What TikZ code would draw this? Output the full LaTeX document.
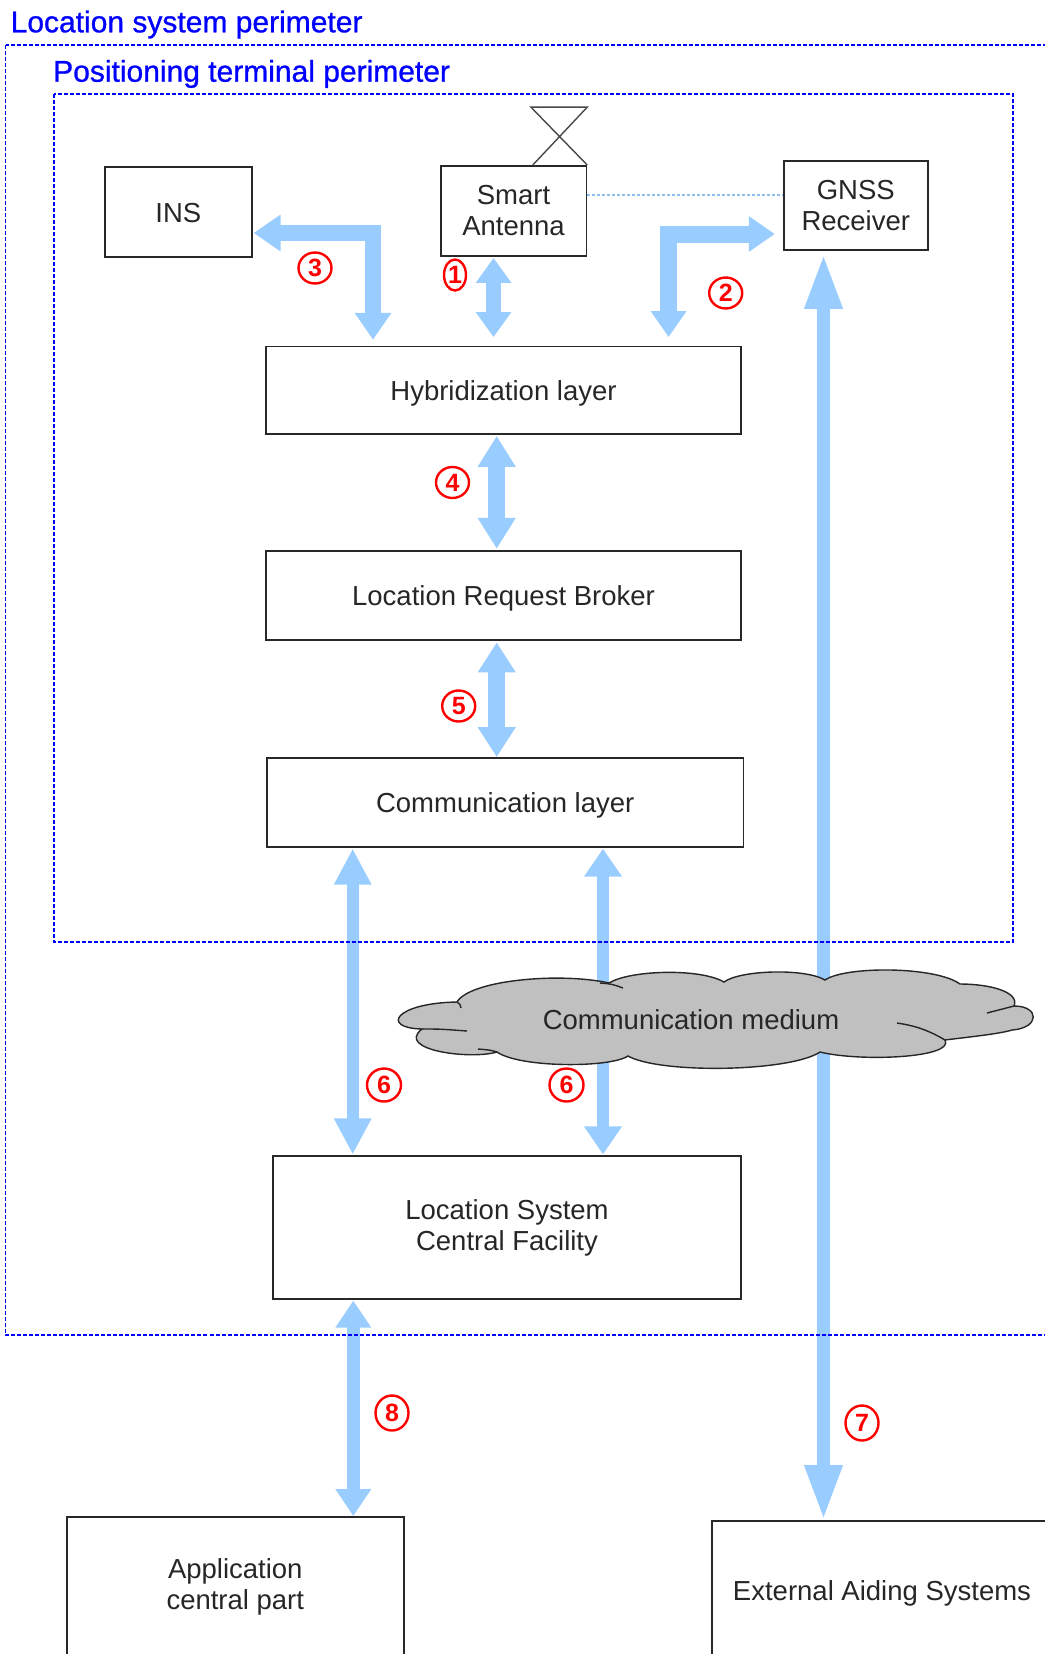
\documentclass[tikz,border=0pt]{standalone}
\usepackage{fontspec}
\setmainfont{Liberation Sans}
\newfontfamily\perimfont[FakeBold=0.9]{Liberation Sans}
\usetikzlibrary{arrows.meta,calc,shapes.geometric}

\definecolor{arrowblue}{RGB}{153,204,255}
\definecolor{linkblue}{RGB}{140,190,240}
\definecolor{framegray}{RGB}{40,40,40}
\definecolor{cloudgray}{RGB}{192,192,192}
\definecolor{perimblue}{RGB}{0,0,255}
\definecolor{tagred}{RGB}{255,0,0}

\begin{document}
\begin{tikzpicture}[x=1pt,y=1pt,
  box/.style={draw=framegray, line width=1.8pt, inner sep=0pt, align=center,
    text=black!85, font=\fontsize{27.5}{31}\selectfont},
  oneline/.style={text height=26pt, text depth=6pt},
  flow/.style n args={3}{draw=arrowblue, line width=#1, line join=miter,
    arrows={Triangle[length=#2,width=#3]-Triangle[length=#2,width=#3]}},
  tag/.style={ellipse, draw=tagred, line width=2.4pt, text=tagred, inner sep=0pt,
    minimum width=33pt, minimum height=31pt,
    font=\bfseries\fontsize{25}{25}\selectfont},
  perim/.style={text=perimblue, font=\perimfont\fontsize{30}{30}\selectfont,
    inner sep=0pt, anchor=base west},
  frame/.style={draw=perimblue, line width=1.5pt, dash pattern=on 4pt off 2pt},
]
\useasboundingbox (0,0) rectangle (1044,-1654);

% --- components ---
\node[box, oneline, minimum width=146.7pt, minimum height=89.4pt] (ins) at (178.35,-212) {INS};
\node[box, minimum width=145.7pt, minimum height=90pt]   (smart) at (513.55,-211)   {Smart\\Antenna};
\node[box, minimum width=144.4pt, minimum height=89pt]   (gnss)  at (855.8,-205.5)  {GNSS\\Receiver};
\node[box, oneline, minimum width=475.6pt, minimum height=87.5pt] (hyb) at (503.5,-390.25) {Hybridization layer};
\node[box, oneline, minimum width=475.6pt, minimum height=89.3pt] (lrb) at (503.5,-595.35) {Location Request Broker};
\node[box, oneline, minimum width=476.4pt, minimum height=88.7pt] (comm) at (505.2,-802.35) {Communication layer};
\node[box, minimum width=468pt,   minimum height=142.3pt] (lscf) at (507,-1227.5)  {Location System\\Central Facility};
\node[box, minimum width=337.4pt, minimum height=140pt]  (app)   at (235.3,-1587)   {Application\\central part};
\node[box, oneline, minimum width=340pt, minimum height=138pt] (ext) at (882,-1590) {External Aiding Systems};

% antenna symbol on top of the smart antenna
\draw[framegray!85, line width=1.4pt]
  ($(smart.north east)+(-54.6,0)$) -- ($(smart.north east)+(0,58)$)
  -- ($(smart.north east)+(-56.4,58)$) -- (smart.north east);

% RF link between antenna and receiver
\draw[linkblue, line width=1.2pt, dash pattern=on 3pt off 2pt]
  ($(smart.east)+(0,16)$) -- ($(gnss.west)+(0,10.5)$);

% --- data flows ---
\draw[flow={15pt}{25pt}{34pt}] ($(smart.south)+(-20,-1)$) -- ($(smart.south |- hyb.north)+(-20,8.5)$);
\draw[flow={17pt}{26pt}{34pt}] ($(hyb.north)+(165.1,8.5)$) |- ($(gnss.west)+(-7.9,-28.5)$);
\draw[flow={16pt}{27pt}{35pt}] ($(hyb.north)+(-130.5,5.8)$) |- ($(ins.east)+(1,-21)$);
\draw[flow={17pt}{31pt}{36pt}] ($(hyb.south)+(-6.8,-1)$) -- ($(lrb.north)+(-6.8,1)$);
\draw[flow={17pt}{30pt}{36pt}] ($(lrb.south)+(-6.8,-1.5)$) -- ($(comm.north)+(-8.5,0)$);
\draw[flow={12pt}{36pt}{35pt}] ($(comm.south)+(-152.5,-1)$) -- ($(lscf.north)+(-154.3,1)$);
\draw[flow={12pt}{28pt}{36pt}] ($(comm.south)+(97.8,-1)$) -- ($(lscf.north)+(96,1)$);
\draw[flow={12.5pt}{55pt}{35pt}] ($(gnss.south)+(-32.3,-3)$) -- ($(ext.north)+(-58.5,0)$);
\draw[flow={13pt}{27pt}{34pt}] ($(lscf.south)+(-153.7,-1)$) -- ($(app.north)+(118,0)$);

% --- communication medium cloud ---
\draw[fill=cloudgray, draw=black!85, line width=1.4pt]
  (422,-1029) .. controls (380,-1028) and (395,-1003) .. (457,-1002)
  .. controls (470,-980) and (560,-972) .. (609,-983)
  .. controls (630,-970) and (700,-968) .. (724,-982)
  .. controls (740,-970) and (805,-968) .. (825,-980)
  .. controls (845,-966) and (935,-966) .. (960,-984)
  .. controls (990,-984) and (1020,-992) .. (1014,-1006)
  .. controls (1040,-1006) and (1040,-1028) .. (1012,-1030)
  .. controls (1000,-1034) and (960,-1038) .. (945,-1040)
  .. controls (955,-1058) and (860,-1062) .. (820,-1052)
  .. controls (790,-1072) and (660,-1074) .. (628,-1056)
  .. controls (610,-1068) and (520,-1068) .. (497,-1052)
  .. controls (470,-1060) and (395,-1050) .. (422,-1029) -- cycle;
\draw[black!85, line width=1.4pt]
  (422,-1029) .. controls (440,-1029) .. (467,-1031)
  (457,-1002) .. controls (460,-1004) .. (461,-1008)
  (600,-983) .. controls (612,-984) .. (623,-988)
  (1014,-1006) .. controls (1000,-1010) .. (987,-1013)
  (945,-1040) .. controls (925,-1028) and (910,-1025) .. (897,-1023)
  (497,-1052) .. controls (490,-1050) .. (478,-1049);
\node[text=black!85, font=\fontsize{27.5}{31}\selectfont, inner sep=0pt] (medium) at (691,-1020) {Communication medium};

% --- interface numbers ---
\node[tag, minimum width=22pt, minimum height=31pt] (t1) at (455,-275) {1};
\node[tag] (t2) at (725.7,-293) {2};
\node[tag] (t3) at (315,-268) {3};
\node[tag] (t4) at (452.5,-482.5) {4};
\node[tag] (t5) at (458.7,-706) {5};
\node[tag, minimum width=34pt, minimum height=33pt] (t6a) at (384,-1085) {6};
\node[tag, minimum width=34pt, minimum height=33pt] (t6b) at (566.5,-1085) {6};
\node[tag, minimum width=33pt, minimum height=35pt] (t7) at (862,-1423) {7};
\node[tag, minimum width=33pt, minimum height=35pt] (t8) at (392,-1413) {8};

% --- perimeters ---
\draw[frame] (5.5,-45) rectangle (1060,-1335);
\draw[frame] (53.8,-94) rectangle (1013,-942);
\node[perim] (sysname)  at (10.5,-32.3) {Location system perimeter};
\node[perim] (termname) at (53,-81.7)   {Positioning terminal perimeter};
\end{tikzpicture}
\end{document}
